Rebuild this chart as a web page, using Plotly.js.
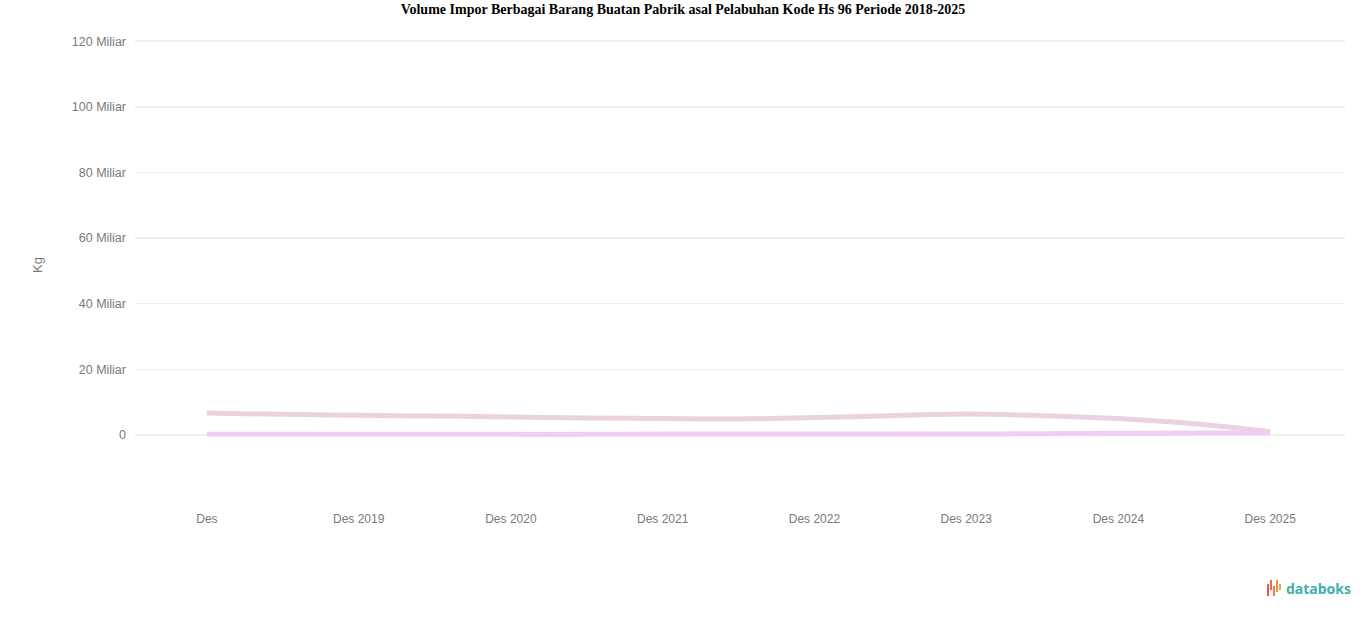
<!DOCTYPE html>
<html>
<head>
<meta charset="utf-8">
<script src="https://cdn.plot.ly/plotly-3.0.1.min.js"></script>
<style>html,body{margin:0;padding:0;background:#fff;}#chart{width:1366px;height:617px;}</style>
</head>
<body>
<div id="chart"></div>
<script>
// Data (values in Miliar Kg)
const periods = ["2018-12-01","2019-06-01","2019-12-01","2020-06-01","2020-12-01","2021-06-01","2021-12-01","2022-06-01","2022-12-01","2023-06-01","2023-12-01","2024-06-01","2024-12-01","2025-06-01","2025-12-01"];
const seriesA = [6.7,6.3,6.0,5.8,5.5,5.2,5.0,4.9,5.3,5.9,6.4,5.9,5.0,3.4,1.0];
const seriesB = [0.2,0.2,0.2,0.2,0.2,0.2,0.3,0.3,0.3,0.3,0.3,0.4,0.5,0.6,0.7];
const tickDates = ["2018-12-01","2019-12-01","2020-12-01","2021-12-01","2022-12-01","2023-12-01","2024-12-01","2025-12-01"];
const tickLabels = ["Des","Des 2019","Des 2020","Des 2021","Des 2022","Des 2023","Des 2024","Des 2025"];
const yTicks = [0,20,40,60,80,100,120];
const yLabels = ["0","20 Miliar","40 Miliar","60 Miliar","80 Miliar","100 Miliar","120 Miliar"];

const W = 1366, H = 617, L = 135, R = 21, T = 30, B = 117;
const pw = W - L - R, ph = H - T - B;
function px(x){return (x - L)/pw;}
function py(y){return (H - B - y)/ph;}

const traces = [
  {x: periods, y: seriesA, type:'scatter', mode:'lines', name:'Berat Bersih',
   line:{color:'#ead3df', width:5, shape:'spline'}},
  {x: periods, y: seriesB, type:'scatter', mode:'lines', name:'Volume',
   line:{color:'#f0cdf4', width:5, shape:'spline'}}
];

const logoBars = [
  {x:1268, y0:584, y1:596, c:'#e8574e'},
  {x:1271, y0:580, y1:590, c:'#ec6a4c'},
  {x:1274, y0:586, y1:596, c:'#ef7d4b'},
  {x:1277, y0:580, y1:592, c:'#f28d4a'},
  {x:1280, y0:584, y1:590, c:'#f49e4a'}
];
const shapes = logoBars.map(b => ({type:'line', xref:'paper', yref:'paper',
  x0:px(b.x), x1:px(b.x), y0:py(b.y0), y1:py(b.y1), line:{color:b.c, width:2}}));

const layout = {
  width: W, height: H,
  margin:{l:L, r:R, t:T, b:B},
  paper_bgcolor:'#fff', plot_bgcolor:'#fff',
  showlegend:false,
  title:{text:'<b>Volume Impor Berbagai Barang Buatan Pabrik asal Pelabuhan Kode Hs 96 Periode 2018-2025</b>',
    font:{family:'Liberation Serif, Times New Roman, serif', size:14, color:'#000'},
    xref:'container', x:0.5, xanchor:'center', yref:'container', y:1-9/H, yanchor:'middle'},
  xaxis:{type:'date', range:['2018-06-11','2026-05-30'], tickvals:tickDates, ticktext:tickLabels,
    showgrid:false, zeroline:false, showline:false, ticks:'', ticklabelstandoff:10,
    tickfont:{family:'Liberation Sans, Arial, sans-serif', size:12, color:'#7a7a7a'}},
  yaxis:{range:[-19.8,123.4], tickvals:yTicks, ticktext:yLabels, showgrid:true, gridcolor:'#efefef', gridwidth:1.5,
    zeroline:false, showline:false, ticks:'', ticklabelstandoff:8,
    tickfont:{family:'Liberation Sans, Arial, sans-serif', size:12.5, color:'#7a7a7a'},
    title:{text:'Kg', font:{family:'Liberation Sans, Arial, sans-serif', size:13, color:'#7a7a7a'}, standoff:26}},
  shapes: shapes,
  annotations:[
    {text:'<b>databoks</b>', xref:'paper', yref:'paper', x:px(1284), y:py(588), xanchor:'left', yanchor:'middle',
     showarrow:false, font:{family:'Noto Sans, Open Sans, sans-serif', size:14, color:'#3fafab'}}
  ]
};

Plotly.newPlot('chart', traces, layout, {displayModeBar:false, staticPlot:true});
</script>
</body>
</html>
